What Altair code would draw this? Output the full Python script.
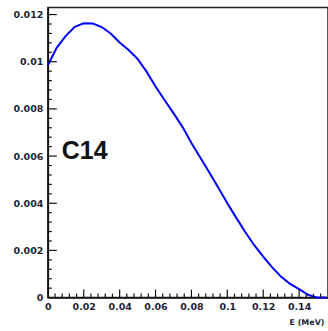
import altair as alt
import numpy as np
import pandas as pd

# Beta spectrum of C14
energy = [0.0, 0.005, 0.01, 0.015, 0.02, 0.025, 0.03, 0.035, 0.04, 0.045,
          0.05, 0.055, 0.06, 0.065, 0.07, 0.075, 0.08, 0.085, 0.09, 0.095,
          0.1, 0.105, 0.11, 0.115, 0.12, 0.125, 0.13, 0.135, 0.14, 0.145,
          0.15, 0.155]
prob = [0.00985, 0.0106, 0.0111, 0.01148, 0.01163, 0.01162, 0.01147, 0.0112,
        0.01082, 0.0105, 0.01012, 0.00958, 0.00895, 0.00838, 0.00782, 0.00724,
        0.00655, 0.00593, 0.0053, 0.00466, 0.004, 0.00338, 0.00278, 0.00222,
        0.00174, 0.00128, 0.00088, 0.00058, 0.00036, 0.00012, 0.0, 0.0]

x_major = [0.02, 0.04, 0.06, 0.08, 0.1, 0.12, 0.14]
x_labels = [0, 0.02, 0.04, 0.06, 0.08, 0.1, 0.12, 0.14]
y_labels = [0, 0.002, 0.004, 0.006, 0.008, 0.01, 0.012]

W, H = 281, 291
XDOM = [0, 0.1561]
YDOM = [0, 0.0123]

x_minor = [round(v, 4) for v in np.arange(0.004, 0.156, 0.004)
           if abs(v / 0.02 - round(v / 0.02)) > 1e-6]
y_major = [v for v in y_labels if v > 0]
y_minor = [round(v, 5) for v in np.arange(0.0004, 0.0123, 0.0004)
           if abs(v / 0.002 - round(v / 0.002)) > 1e-6]

xs = alt.Scale(domain=XDOM, nice=False, zero=False)
ys = alt.Scale(domain=YDOM, nice=False, zero=False)

FONT = "DejaVu Sans"
LBL = "#1c1f38"

df = pd.DataFrame({"E": energy, "P": prob})

line = alt.Chart(df).mark_line(color="#0000ff", strokeWidth=2).encode(
    x=alt.X("E:Q", scale=xs,
            axis=alt.Axis(values=x_labels, format="~g", ticks=False,
                          grid=False, domainColor="#111", domainWidth=1.5,
                          labelFont=FONT, labelFontSize=9.5, labelFontWeight="bold",
                          labelColor=LBL, labelPadding=4, labelFlush=False,
                          title="E (MeV)", titleFont=FONT, titleFontSize=8,
                          titleFontWeight="bold", titleColor=LBL,
                          titleAlign="right", titleAnchor="end",
                          titleX=277, titleY=27, titleBaseline="alphabetic")),
    y=alt.Y("P:Q", scale=ys,
            axis=alt.Axis(values=y_labels, format="~g", ticks=False,
                          grid=False, domainColor="#111", domainWidth=1.5,
                          labelFont=FONT, labelFontSize=9.5, labelFontWeight="bold",
                          labelColor=LBL, labelPadding=5, labelFlush=False,
                          title=None)),
)

def xticks(vals, length):
    return alt.Chart(pd.DataFrame({"v": vals})).mark_rule(
        color="#111", strokeWidth=1.2).encode(
        x=alt.X("v:Q", scale=xs),
        y=alt.value(H), y2=alt.value(H - length))

def yticks(vals, length):
    return alt.Chart(pd.DataFrame({"v": vals})).mark_rule(
        color="#111", strokeWidth=1.2).encode(
        y=alt.Y("v:Q", scale=ys),
        x=alt.value(0), x2=alt.value(length))

label = alt.Chart(pd.DataFrame({"t": ["C14"]})).mark_text(
    font="Liberation Sans", fontSize=25, fontWeight="bold", color="#111",
    align="left", baseline="middle").encode(
    text="t:N", x=alt.value(14), y=alt.value(144))

chart = alt.layer(
    line,
    xticks(x_major, 8), xticks(x_minor, 4),
    yticks(y_major, 9), yticks(y_minor, 4),
    label,
).properties(
    width=W, height=H,
    padding={"left": 48, "top": 7, "right": 0, "bottom": 33},
    autosize=alt.AutoSizeParams(type="none"),
).configure_view(stroke="#222", strokeWidth=1.5)

chart.save("out.html", embed_options={"renderer": "svg", "actions": False})
